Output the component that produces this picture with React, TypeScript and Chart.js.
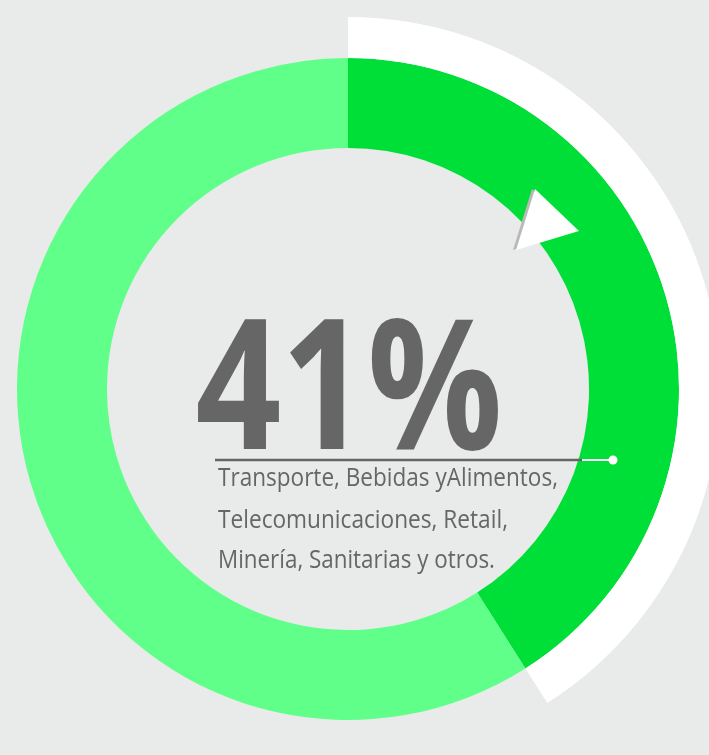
import React, { useEffect, useRef } from "react";
import { Chart, registerables } from "chart.js";

Chart.register(...registerables);

const categories = ["Transporte, Bebidas y Alimentos, Telecomunicaciones, Retail, Minería, Sanitarias y otros", "Resto"];
const shareValues = [41, 59];
const bigLabel = "41%";
const descriptionLines = [
  "Transporte, Bebidas yAlimentos,",
  "Telecomunicaciones, Retail,",
  "Minería, Sanitarias y otros.",
];

const BG = "#e9eaea";
const DARK_GREEN = "#00df37";
const LIGHT_GREEN = "#5fff89";
const TEXT_GREY = "#666666";

function fitText(ctx: CanvasRenderingContext2D, text: string, x: number, y: number, targetW: number) {
  const w = ctx.measureText(text).width;
  const sx = targetW / w;
  ctx.save();
  ctx.translate(x, y);
  ctx.scale(sx, 1);
  ctx.fillText(text, 0, 0);
  ctx.restore();
}

const decorPlugin = {
  id: "decor",
  afterDraw(chart: any) {
    const ctx: CanvasRenderingContext2D = chart.ctx;
    const meta = chart.getDatasetMeta(1);
    const arc = meta.data[0];
    const cx = arc.x;
    const cy = arc.y;
    ctx.save();
    // arrow head (shadow then white)
    ctx.fillStyle = "#b9b9b9";
    ctx.beginPath();
    ctx.moveTo(cx + 184, cy - 200);
    ctx.lineTo(cx + 228, cy - 158);
    ctx.lineTo(cx + 165, cy - 139);
    ctx.closePath();
    ctx.fill();
    ctx.fillStyle = "#ffffff";
    ctx.beginPath();
    ctx.moveTo(cx + 187, cy - 200);
    ctx.lineTo(cx + 231, cy - 158);
    ctx.lineTo(cx + 168, cy - 139);
    ctx.closePath();
    ctx.fill();

    // big percentage
    ctx.fillStyle = TEXT_GREY;
    ctx.textBaseline = "alphabetic";
    ctx.textAlign = "left";
    let size = 180;
    ctx.font = `bold ${size}px "Open Sans"`;
    const m = ctx.measureText(bigLabel);
    size = size * 131 / m.actualBoundingBoxAscent;
    ctx.font = `bold ${size}px "Open Sans"`;
    const m2 = ctx.measureText(bigLabel);
    const left = m2.actualBoundingBoxLeft;
    const inkW = m2.actualBoundingBoxLeft + m2.actualBoundingBoxRight;
    ctx.save();
    const sx = 300 / inkW;
    ctx.translate(cx - 150, cy + 60);
    ctx.scale(sx, 1);
    ctx.fillText(bigLabel, left, 0);
    ctx.restore();

    // leader line
    ctx.strokeStyle = TEXT_GREY;
    ctx.lineWidth = 2.5;
    ctx.beginPath();
    ctx.moveTo(cx - 133, cy + 71);
    ctx.lineTo(cx + 234, cy + 71);
    ctx.stroke();
    ctx.strokeStyle = "#ffffff";
    ctx.lineWidth = 2;
    ctx.beginPath();
    ctx.moveTo(cx + 234, cy + 71);
    ctx.lineTo(cx + 265, cy + 71);
    ctx.stroke();
    ctx.fillStyle = "#ffffff";
    ctx.beginPath();
    ctx.arc(cx + 265, cy + 71, 4.5, 0, Math.PI * 2);
    ctx.fill();

    // description
    ctx.fillStyle = TEXT_GREY;
    ctx.font = `25px "Open Sans"`;
    const widths = [340, 290, 277];
    const bases = [97, 139, 179];
    descriptionLines.forEach((t, i) => {
      fitText(ctx, t, cx - 130, cy + bases[i], widths[i]);
    });
    ctx.restore();
  },
};

export default function App() {
  const ref = useRef<HTMLCanvasElement | null>(null);
  useEffect(() => {
    if (!ref.current) return;
    const chart = new Chart(ref.current, {
      type: "doughnut",
      data: {
        labels: categories,
        datasets: [
          {
            data: shareValues,
            backgroundColor: ["#ffffff", "rgba(0,0,0,0)"],
            borderWidth: 0,
            hoverOffset: 0,
            offset: 0,
            weight: 41,
          },
          {
            data: shareValues,
            backgroundColor: [DARK_GREEN, LIGHT_GREEN],
            borderWidth: 0,
            hoverOffset: 0,
            offset: 0,
            weight: 90,
          },
        ],
      },
      options: {
        responsive: false,
        animation: false,
        devicePixelRatio: 1,
        cutout: "64.8%",
        layout: { padding: 0 },
        plugins: {
          legend: { display: false },
          tooltip: { enabled: false },
        },
        events: [],
      },
      plugins: [decorPlugin],
    });
    return () => chart.destroy();
  }, []);
  return (
    <div
      style={{
        position: "fixed",
        left: 0,
        top: 0,
        width: 709,
        height: 755,
        overflow: "hidden",
        background: BG,
      }}
    >
      <canvas
        ref={ref}
        width={744}
        height={744}
        style={{ position: "absolute", left: -24, top: 17, width: 744, height: 744 }}
      />
    </div>
  );
}
